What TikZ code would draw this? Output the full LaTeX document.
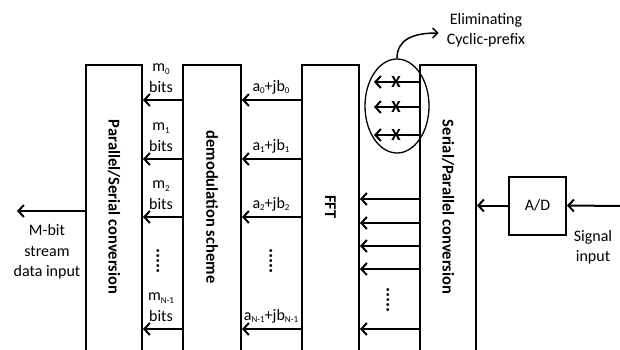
\documentclass[tikz,border=0pt]{standalone}
\usepackage{fontspec}
\setmainfont{Carlito}
\usetikzlibrary{arrows.meta,shapes.geometric}
\newcommand\idx[1]{\raisebox{-0.35ex}{\fontsize{9}{9}\selectfont #1}}
\begin{document}
\begin{tikzpicture}[x=1pt,y=-1pt,
  every node/.style={font=\fontsize{16}{20.5}\selectfont, align=center, inner sep=0pt},
  blk/.style={draw, line width=2pt, minimum height=292pt, anchor=north},
  vlabel/.style={rotate=-90, font=\fontsize{16.5}{19}\selectfont\bfseries},
  arr/.style={line width=2pt, -{Straight Barb[length=5.5pt,width=12pt,line width=2pt]}},
  vdots/.style={rotate=-90, font=\fontsize{19}{19}\selectfont\bfseries},
  cross/.style={font=\fontsize{17}{19}\selectfont\bfseries}
]
\useasboundingbox (0,0) rectangle (620,350);
\clip (0,0) rectangle (620,350);

% blocks
\node[blk, minimum width=56pt] (ps) at (114,64) {};
\node[blk, minimum width=58pt] (demod) at (212,64) {};
\node[blk, minimum width=57pt] (fft) at (330.5,64) {};
\node[blk, minimum width=56pt] (sp) at (448,64) {};
\node[draw, line width=2pt, minimum width=57pt, minimum height=58pt] (ad) at (537.5,205.5) {A/D};

\node[vlabel] (pslabel) at (114,207) {Parallel/Serial conversion};
\node[vlabel] (demodlabel) at (212,207) {demodulation scheme};
\node[vlabel] (fftlabel) at (330.5,207) {FFT};
\node[vlabel] (splabel) at (448,207) {Serial/Parallel conversion};

% input side
\coordinate (sig) at (622,206);
\draw[arr] (sig) -- (ad.east);
\draw[arr] (ad.west) -- (sp.east |- ad.west);
\node (siglabel) at (593,247) {Signal\\input};

% output side
\coordinate (out) at (17,211);
\draw[arr] (ps.west |- out) -- (out);
\node (outlabel) at (47,252) {M-bit\\stream\\data input};

% bits and symbols
\foreach \y/\i in {100/0,159/1,217/2,329/{N-1}} {
  \draw[arr] (demod.west |- 0,\y) -- (ps.east |- 0,\y);
  \draw[arr] (fft.west |- 0,\y) -- (demod.east |- 0,\y);
  \node at (161,\y-22) {m\idx{\i}\\bits};
  \node at (271,\y-13) {a\idx{\i}+jb\idx{\i}};
}
\node[vdots] (mdots) at (158,261) {.....};
\node[vdots] (adots) at (271,261) {.....};

% FFT inputs
\foreach \y in {199,223,246,269,329}
  \draw[arr] (sp.west |- 0,\y) -- (fft.east |- 0,\y);
\node[vdots] (fdots) at (388,300) {.....};

% cyclic prefix
\node[draw, ellipse, line width=1.3pt, minimum width=64pt, minimum height=94pt] (cp) at (397,106) {};
\foreach \y in {82,107,135} {
  \coordinate (cp\y) at (374,\y);
  \draw[arr] (sp.west |- cp\y) -- (cp\y);
  \node[cross] at (396,\y) {X};
}
\node (elim) at (486,30) {Eliminating\\Cyclic-prefix};
\draw[line width=1.5pt, -{Straight Barb[length=5pt,width=10pt,line width=1.5pt]}]
  (cp.north) .. controls (397,40) and (412,33) .. ([xshift=-8pt,yshift=-3pt]elim.west);
\end{tikzpicture}
\end{document}
